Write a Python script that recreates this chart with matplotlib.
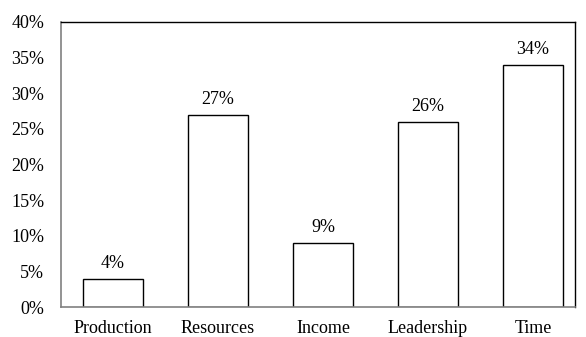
import matplotlib
matplotlib.use("Agg")
import matplotlib.pyplot as plt

categories = ["Production", "Resources", "Income", "Leadership", "Time"]
values = [4, 27, 9, 26, 34]
yticks = [0, 5, 10, 15, 20, 25, 30, 35, 40]

plt.rcParams['font.family'] = ['Liberation Serif', 'DejaVu Serif']

fig = plt.figure(figsize=(5.86, 3.37), dpi=100)
ax = fig.add_axes([61/586, 1-307/337, (575-61)/586, (307-22)/337])

x = list(range(len(categories)))
ax.bar(x, values, width=0.571, color="white", edgecolor="black", linewidth=1.0)
for xi, v in zip(x, values):
    ax.annotate(f"{v}%", (xi, v), xytext=(0, 5), textcoords="offset points",
                ha="center", va="bottom", fontsize=13)

ax.set_xlim(-0.495, 4.4)
ax.set_ylim(0, 40)
ax.set_yticks(yticks)
ax.set_yticklabels([f"{t}%" for t in yticks], fontsize=13)
ax.set_xticks(x)
ax.set_xticklabels(categories, fontsize=13)
ax.tick_params(axis='y', length=0, pad=12)
ax.tick_params(axis='x', length=0, pad=9.5)
for s in ["left", "bottom"]:
    ax.spines[s].set_color("#808080")
    ax.spines[s].set_linewidth(1.2)
for s in ["top", "right"]:
    ax.spines[s].set_color("black")
    ax.spines[s].set_linewidth(1.0)

fig.savefig("out.png", dpi=100)
